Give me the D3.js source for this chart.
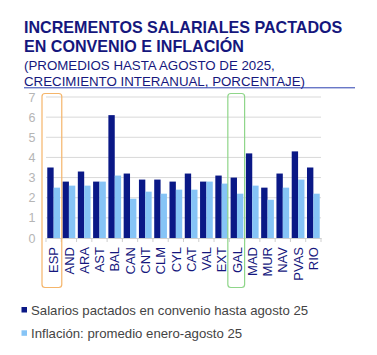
<!DOCTYPE html>
<html><head><meta charset="utf-8">
<script src="https://cdn.jsdelivr.net/npm/d3@7"></script>
<style>body{margin:0;background:#fff}svg{display:block}</style>
</head><body>
<script>
const categories = ["ESP","AND","ARA","AST","BAL","CAN","CNT","CLM","CYL","CAT","VAL","EXT","GAL","MAD","MUR","NAV","PVAS","RIO"];
const salarios = [3.5,2.8,3.3,2.8,6.1,3.2,2.9,2.9,2.8,3.2,2.8,3.1,3.0,4.2,2.5,3.2,4.3,3.5];
const inflacion = [2.5,2.6,2.6,2.8,3.1,1.95,2.3,2.2,2.4,2.4,2.8,2.7,2.2,2.6,1.9,2.5,2.9,2.2];
const yTicks = [0,1,2,3,4,5,6,7];
const seriesNames = ["Salarios pactados en convenio hasta agosto 25","Inflación: promedio enero-agosto 25"];
const highlighted = [{cat:"ESP",color:"#f5b56a"},{cat:"GAL",color:"#8fd68a"}];

const W=377,H=355;
const svg=d3.select("body").append("svg").attr("width",W).attr("height",H);
const navy="#15177d";
const cDark="#0a1886", cLight="#86c4f6";
const ff="Liberation Sans, Arial, sans-serif";

// Title
svg.append("text").attr("x",24).attr("y",33).attr("font-family",ff)
  .attr("font-weight","bold").attr("font-size",16.1).attr("fill",navy).text("INCREMENTOS SALARIALES PACTADOS");
svg.append("text").attr("x",24).attr("y",52).attr("font-family",ff)
  .attr("font-weight","bold").attr("font-size",16.1).attr("fill",navy).text("EN CONVENIO E INFLACIÓN");
svg.append("text").attr("x",24).attr("y",69.5).attr("font-family",ff)
  .attr("font-size",13.3).attr("fill",navy).text("(PROMEDIOS HASTA AGOSTO DE 2025,");
svg.append("text").attr("x",24).attr("y",85.5).attr("font-family",ff)
  .attr("font-size",13.3).attr("fill",navy).text("CRECIMIENTO INTERANUAL, PORCENTAJE)");
svg.append("line").attr("x1",24).attr("x2",355).attr("y1",87.8).attr("y2",87.8).attr("stroke","#2a3fb0").attr("stroke-width",1);

const x=d3.scaleBand().domain(categories).range([46,321]).paddingInner(0).paddingOuter(0);
const y=d3.scaleLinear().domain([0,7]).range([238,97]);
const inner=d3.scaleBand().domain([0,1]).range([0,x.bandwidth()]).paddingOuter(0.2).paddingInner(0);

// gridlines
svg.append("g").selectAll("line").data(yTicks.filter(d=>d>0)).join("line")
  .attr("x1",46).attr("x2",321).attr("y1",d=>y(d)).attr("y2",d=>y(d))
  .attr("stroke","#d9d9d9").attr("stroke-width",1);

// y axis labels
const ya=svg.append("g").attr("transform","translate(35.5,0)")
  .call(d3.axisLeft(y).tickValues(yTicks).tickFormat(d3.format("d")).tickSize(0).tickPadding(0));
ya.select(".domain").remove();
ya.selectAll("text").attr("font-family",ff).attr("font-size",12.5).attr("fill","#b5b5b5");

// bars
const g=svg.append("g");
g.selectAll("rect.s").data(categories).join("rect").attr("class","s")
  .attr("x",(d)=>x(d)+inner(0)).attr("width",inner.bandwidth())
  .attr("y",(d,i)=>y(salarios[i])).attr("height",(d,i)=>y(0)-y(salarios[i])).attr("fill",cDark);
g.selectAll("rect.i").data(categories).join("rect").attr("class","i")
  .attr("x",(d)=>x(d)+inner(1)).attr("width",inner.bandwidth())
  .attr("y",(d,i)=>y(inflacion[i])).attr("height",(d,i)=>y(0)-y(inflacion[i])).attr("fill",cLight);

// x axis
const xa=svg.append("g").attr("transform","translate(0,238)").call(d3.axisBottom(x).tickSize(0).tickPadding(0));
xa.select(".domain").attr("stroke","#cfcfcf");
xa.selectAll("text").attr("font-family",ff).attr("font-size",13).attr("fill",navy)
  .attr("transform","rotate(-90)").attr("text-anchor","end").attr("dx","-9").attr("dy","0.36em").attr("y",0);
svg.append("g").selectAll("line").data(categories.concat(["_end"])).join("line")
  .attr("x1",(d,i)=>i<categories.length?x(d):x.range()[1]).attr("x2",(d,i)=>i<categories.length?x(d):x.range()[1])
  .attr("y1",238).attr("y2",242).attr("stroke","#cfcfcf");

// highlight boxes
svg.append("g").selectAll("rect").data(highlighted).join("rect")
  .attr("x",d=>x(d.cat)-(d.cat==="ESP"?4:1.5)).attr("width",d=>x.bandwidth()+(d.cat==="ESP"?4.5:1.5))
  .attr("y",93.5).attr("height",194).attr("rx",3).attr("fill","none").attr("stroke",d=>d.color).attr("stroke-width",1.2);

// legend
const lg=svg.append("g");
[cDark,cLight].forEach((c,i)=>{
  lg.append("rect").attr("x",21.5).attr("y",307+i*23.3).attr("width",5.5).attr("height",5.5).attr("fill",c);
  lg.append("text").attr("x",31).attr("y",314.8+i*23.3).attr("font-family",ff)
    .attr("font-size",13.2).attr("fill","#444").text(seriesNames[i]);
});
</script>
</body></html>
